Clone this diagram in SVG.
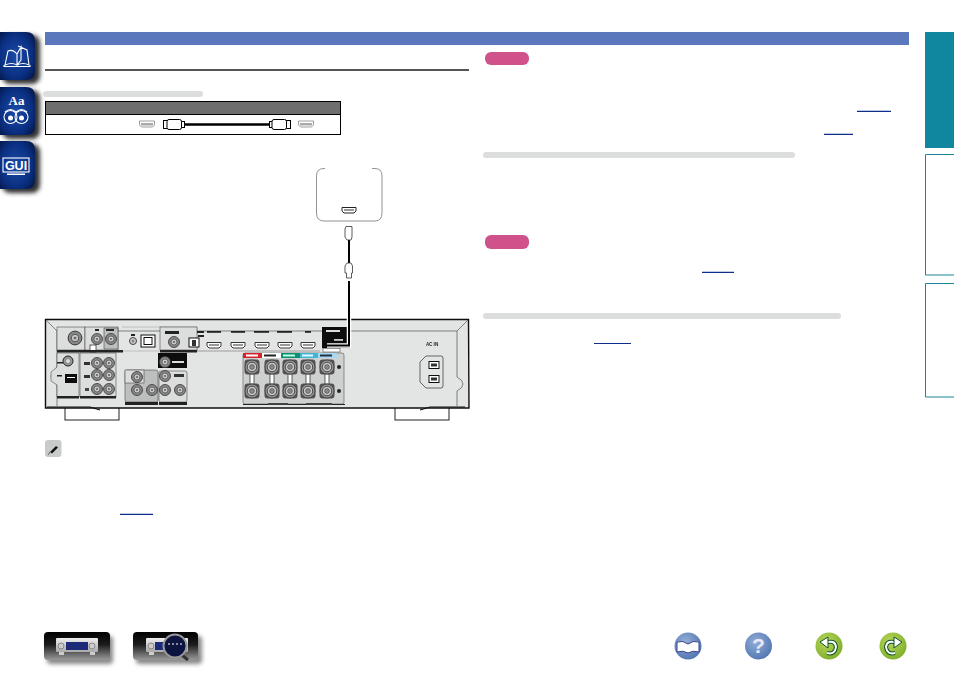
<svg xmlns="http://www.w3.org/2000/svg" xmlns:xlink="http://www.w3.org/1999/xlink" width="954" height="674" viewBox="0 0 954 674">
<style>
.bar{fill:#5a78bb}.pill{fill:#d0528a}.sub{fill:#dcdddd}.link{stroke:#0b2f8a;stroke-width:1.2;fill:none}
.out{fill:#fff;stroke:#1d8496;stroke-width:1}
.mod{fill:#bdbebe;stroke:#333;stroke-width:.5}.lt{fill:#dcdddd;stroke:#333;stroke-width:.5}
.lab{fill:#222}.wic{fill:none;stroke:#fff;stroke-width:1.1}
.plug{fill:#fff;stroke:#000;stroke-width:1}.vplug{fill:#fff;stroke:#333;stroke-width:.8}
</style>
<defs>
<radialGradient id="tabg" cx=".45" cy=".5" r=".65"><stop offset="0" stop-color="#1a4aa8"/><stop offset=".7" stop-color="#0a2f80"/><stop offset="1" stop-color="#061a50"/></radialGradient>
<linearGradient id="btn" x1="0" y1="0" x2="0" y2="1"><stop offset="0" stop-color="#000"/><stop offset=".45" stop-color="#1c1c1c"/><stop offset="1" stop-color="#9a9a9a"/></linearGradient>
<linearGradient id="rcv" x1="0" y1="0" x2="0" y2="1"><stop offset="0" stop-color="#eee"/><stop offset="1" stop-color="#aaa"/></linearGradient>
<radialGradient id="blu" cx=".4" cy=".35" r=".7"><stop offset="0" stop-color="#93aed8"/><stop offset="1" stop-color="#5075b0"/></radialGradient>
<radialGradient id="grn" cx=".4" cy=".35" r=".7"><stop offset="0" stop-color="#b7d65a"/><stop offset="1" stop-color="#7fae2c"/></radialGradient>
<filter id="sh" x="-20%" y="-20%" width="150%" height="150%"><feGaussianBlur stdDeviation="2"/></filter>
<filter id="soft" x="-2%" y="-2%" width="104%" height="104%"><feGaussianBlur stdDeviation=".35"/></filter>
<g id="term"><rect x="-7.500" y="-7.500" width="15" height="15" rx="3" fill="#555"/><circle r="7" fill="#999" stroke="#333" stroke-width=".8"/><circle r="4.800" fill="#c8c8c8" stroke="#444" stroke-width="1"/><circle r="2.400" fill="#888" stroke="#444" stroke-width=".6"/></g>
<g id="rca"><circle r="5.500" fill="#888" stroke="#333" stroke-width=".8"/><circle r="3" fill="#c8c8c8" stroke="#555" stroke-width=".8"/><circle r="1.100" fill="#666"/></g>
<g id="hp"><path d="M-7 -2.500H7V1L5 3H-5L-7 1Z" fill="#fff" stroke="#222" stroke-width=".9"/><rect x="-5" y="-1" width="10" height="2" fill="#999"/></g>
<g id="port"><path d="M-7.500 -3H7.500V1L5.500 3H-5.500L-7.500 1Z" fill="#fff" stroke="#777" stroke-width=".7"/><rect x="-6" y="-1" width="12" height="2.500" fill="#aaa"/></g>
</defs>

<g id="nav-tabs">
<g id="tab-book"><rect x="2" y="35" width="38" height="49" rx="8" fill="#333" filter="url(#sh)"/><path d="M0 32H26Q35 32 35 41V71Q35 80 26 80H0Z" fill="url(#tabg)"/><path class="wic" d="M5 65L8 51Q13 49 17 54V65Q12 62 5 65ZM29 65L27 50L18 46M17 54L21 47V60L17 65M17 65Q23 62 29 65M4 65V66.500H30V65"/></g>
<g id="tab-glossary"><rect x="2" y="90" width="38" height="49" rx="8" fill="#333" filter="url(#sh)"/><path d="M0 87H26Q35 87 35 96V126Q35 135 26 135H0Z" fill="url(#tabg)"/><text x="16.500" y="105" text-anchor="middle" font-family="'Liberation Serif',serif" font-weight="bold" font-size="13" fill="#fff">Aa</text><circle class="wic" cx="10.500" cy="117" r="6.500"/><circle class="wic" cx="21.500" cy="117" r="6.500"/><path class="wic" d="M5 112Q10.500 107 16 112Q21.500 107 27 112"/><circle cx="10.500" cy="118" r="2.500" fill="#fff"/><circle cx="21.500" cy="118" r="2.500" fill="#fff"/></g>
<g id="tab-gui"><rect x="2" y="144" width="38" height="49" rx="8" fill="#333" filter="url(#sh)"/><path d="M0 141H26Q35 141 35 150V180Q35 189 26 189H0Z" fill="url(#tabg)"/><rect class="wic" x="3" y="158" width="26" height="14"/><text x="16" y="170" text-anchor="middle" font-family="'Liberation Sans',sans-serif" font-weight="bold" font-size="12.500" fill="#fff">GUI</text><rect x="7" y="173.500" width="18" height="1.500" fill="#fff"/></g>
</g>

<rect class="bar" x="45" y="32" width="864" height="13"/>
<rect x="45" y="69" width="424" height="2" fill="#555"/>
<rect class="sub" x="43" y="91" width="160" height="6" rx="3"/>

<g id="right-tabs">
<rect x="925" y="32" width="29" height="116" fill="#10869f"/>
<path class="out" d="M954 154.500H925.500V275H954"/>
<path class="out" d="M954 283.500H925.500V397H954"/>
</g>

<g id="cable-table">
<rect x="45.500" y="101.500" width="295" height="33" fill="#fff" stroke="#000"/>
<rect x="46" y="102" width="294" height="12.500" fill="#6e6e6e"/>
<path d="M45 114.500H341" stroke="#000" fill="none"/>
<use xlink:href="#port" href="#port" x="147" y="124"/>
<use xlink:href="#port" href="#port" x="306" y="124"/>
<path d="M184 124.500H270" stroke="#000" stroke-width="2.500"/>
<rect class="plug" x="163.500" y="120.500" width="4" height="8"/><rect class="plug" x="181.500" y="121.500" width="3" height="6"/><rect class="plug" x="167" y="119.500" width="14.500" height="10" rx="2"/>
<rect class="plug" x="286.500" y="120.500" width="4" height="8"/><rect class="plug" x="269.500" y="121.500" width="3" height="6"/><rect class="plug" x="272" y="119.500" width="14.500" height="10" rx="2"/>
</g>

<g id="source-device">
<path d="M325 168.500H324Q316.500 168.500 316.500 176V213Q316.500 221 324 221H375Q382 221 382 213V176Q382 168.500 375 168.500H372" fill="#fff" stroke="#777" stroke-width=".8"/>
<path d="M342 207.500H356V211L354 213H344L342 211Z" fill="#fff" stroke="#222"/><rect x="344" y="209" width="10" height="2" fill="#999"/>
</g>

<g id="receiver" filter="url(#soft)">
<rect x="65" y="405" width="54" height="15" fill="#fff" stroke="#222"/>
<rect x="395" y="405" width="54" height="15" fill="#fff" stroke="#222"/>
<path d="M45.500 319.500H468.500L469 408H45.500Z" fill="#e3e4e4" stroke="#111" stroke-width="1.400"/>
<path d="M46 320L57 331V367Q51 372 51 376Q51 381 57 385V406M57 331H457M468 320L457 331V377Q463 380 463 384Q463 388 457 391V406" fill="none" stroke="#555" stroke-width=".7"/>
<path d="M47 407H90L100 410M465 407H430L420 410" fill="none" stroke="#111" stroke-width="1.200"/>

<rect class="lt" x="57" y="327" width="28" height="23"/><use xlink:href="#rca" href="#rca" x="75" y="338" transform="translate(-18.750 -84.500) scale(1.250)"/>
<rect class="lt" x="85" y="327" width="33" height="23"/><rect class="mod" x="104" y="328" width="14" height="21"/>
<use xlink:href="#rca" href="#rca" x="97" y="339"/><use xlink:href="#rca" href="#rca" x="111" y="339"/>
<rect x="90" y="345" width="6" height="7" fill="#fff" stroke="#222" stroke-width=".7"/>
<circle cx="133" cy="341" r="3.500" fill="#ccc" stroke="#444"/><circle cx="133" cy="341" r="1.500" fill="#888"/>
<rect x="141" y="335" width="14" height="12" fill="#fff" stroke="#111"/><rect x="144" y="337.500" width="8" height="7" fill="#fff" stroke="#111"/>
<path d="M122 327H197V351H122" fill="none" stroke="#999" stroke-width=".5"/>
<rect class="lt" x="160" y="327" width="37" height="23"/><use xlink:href="#rca" href="#rca" x="174" y="342"/>
<rect x="189" y="338" width="10" height="9" fill="#fff" stroke="#111"/><rect x="192" y="340" width="4" height="6" fill="#333"/>
<g class="lab"><rect x="165" y="331" width="14" height="3"/><rect x="197" y="331" width="7" height="2"/><rect x="198" y="335" width="6" height="2"/><rect x="95" y="329" width="4" height="2"/><rect x="106" y="329" width="8" height="2"/><rect x="131" y="334" width="4" height="2"/>
<rect x="207" y="331" width="14" height="1.800"/><rect x="231" y="331" width="14" height="1.800"/><rect x="254" y="331" width="15" height="1.800"/><rect x="277" y="331" width="15" height="1.800"/><rect x="305" y="331" width="6" height="1.800"/>
<rect x="57" y="350" width="28" height="2.500"/><rect x="85" y="350" width="38" height="2.500"/><rect x="160" y="350" width="37" height="2.500"/></g>
<use xlink:href="#hp" href="#hp" x="214" y="345"/><use xlink:href="#hp" href="#hp" x="238" y="345"/><use xlink:href="#hp" href="#hp" x="262" y="345"/><use xlink:href="#hp" href="#hp" x="285" y="345"/><use xlink:href="#hp" href="#hp" x="308" y="345"/>
<path d="M197 351H320" stroke="#555" stroke-width=".5" fill="none"/>

<rect x="322" y="327" width="28" height="21" fill="#111"/>
<rect x="326" y="330" width="14" height="2" fill="#ddd"/><rect x="334" y="339" width="9" height="1.800" fill="#ccc"/>
<rect x="323" y="348.500" width="17" height="3.500" fill="#fff" stroke="#333" stroke-width=".5"/>

<rect x="243" y="353" width="101" height="51" rx="2" fill="#cfd0d0" stroke="#555" stroke-width=".6"/>
<rect x="243" y="353" width="19" height="5" fill="#d8232a"/><rect x="246" y="354.500" width="12" height="2" fill="#fff"/>
<rect x="262" y="353" width="19" height="5" fill="#fff"/><rect x="264" y="354.500" width="12" height="2" fill="#222"/>
<rect x="281" y="353" width="19" height="5" fill="#0a8f6a"/><rect x="283" y="354.500" width="12" height="2" fill="#bfe"/>
<rect x="300" y="353" width="18" height="5" fill="#45b3d8"/><rect x="302" y="354.500" width="11" height="2" fill="#dff"/>
<rect x="318" y="353" width="19" height="5" fill="#a8d8ef"/><rect x="320" y="354.500" width="12" height="2" fill="#234"/>
<g fill="#fff" stroke="#222" stroke-width=".7"><rect x="250" y="372" width="4" height="14"/><rect x="270" y="372" width="4" height="14"/><rect x="288" y="372" width="4" height="14"/><rect x="306" y="372" width="4" height="14"/><rect x="325" y="372" width="4" height="14"/></g>
<use xlink:href="#term" href="#term" x="252" y="367"/><use xlink:href="#term" href="#term" x="272" y="367"/><use xlink:href="#term" href="#term" x="290" y="367"/><use xlink:href="#term" href="#term" x="308" y="367"/><use xlink:href="#term" href="#term" x="327" y="367"/>
<use xlink:href="#term" href="#term" x="252" y="391"/><use xlink:href="#term" href="#term" x="272" y="391"/><use xlink:href="#term" href="#term" x="290" y="391"/><use xlink:href="#term" href="#term" x="308" y="391"/><use xlink:href="#term" href="#term" x="327" y="391"/>
<circle cx="339" cy="367" r="2" fill="#222"/><circle cx="339" cy="391" r="2" fill="#222"/>
<path d="M243 404.500H345" stroke="#222" stroke-width="1.200"/>
<g fill="#444"><rect x="268" y="403" width="20" height="1.800"/><rect x="306" y="403" width="26" height="1.800"/></g>

<path class="lt" d="M57 353H79V397H57V385L51 381V372L57 367Z"/>
<circle cx="68" cy="361" r="5" fill="#999" stroke="#222" stroke-width="1"/><circle cx="68" cy="361" r="2.500" fill="#ddd" stroke="#555" stroke-width=".5"/>
<rect x="65" y="374" width="12" height="9" fill="#111"/><rect x="67" y="377" width="8" height="1" fill="#fff"/>
<rect x="57" y="362" width="6" height="1.500" fill="#222"/><rect x="57" y="375" width="5" height="1.500" fill="#222"/>
<rect x="57" y="396" width="22" height="2.500" fill="#222"/>
<rect class="lt" x="80" y="353" width="36" height="44"/>
<use xlink:href="#rca" href="#rca" x="97" y="363"/><use xlink:href="#rca" href="#rca" x="109" y="363"/><use xlink:href="#rca" href="#rca" x="97" y="375"/><use xlink:href="#rca" href="#rca" x="109" y="375"/><use xlink:href="#rca" href="#rca" x="97" y="389"/><use xlink:href="#rca" href="#rca" x="109" y="389"/>
<rect x="84" y="362" width="6" height="3" fill="#333"/><rect x="84" y="375" width="6" height="3" fill="#333"/><rect x="85" y="388" width="4" height="3" fill="#444"/>
<rect x="80" y="396" width="36" height="2.500" fill="#222"/>

<rect x="158" y="353" width="29" height="15" fill="#111"/><use xlink:href="#rca" href="#rca" x="165" y="362"/><rect x="172" y="361" width="12" height="2" fill="#ddd"/>
<rect class="mod" x="125" y="370" width="33" height="32" rx="2"/><rect class="lt" x="125" y="370" width="19" height="13"/><use xlink:href="#rca" href="#rca" x="137" y="377"/><use xlink:href="#rca" href="#rca" x="137" y="390"/><use xlink:href="#rca" href="#rca" x="152" y="390"/>
<rect x="125" y="402" width="33" height="3" fill="#222"/>
<rect class="lt" x="159" y="371" width="28" height="31" rx="2"/><use xlink:href="#rca" href="#rca" x="165" y="376"/><use xlink:href="#rca" href="#rca" x="165" y="390"/><use xlink:href="#rca" href="#rca" x="180" y="390"/>
<rect x="174" y="374" width="10" height="3" fill="#333"/><rect x="159" y="402" width="28" height="3" fill="#222"/>

<text x="432" y="346" text-anchor="middle" font-family="'Liberation Sans',sans-serif" font-weight="bold" font-size="4.500" fill="#222">AC IN</text>
<path d="M426 356H441Q443 356 443 358V386Q443 388 441 388H426L420 382V362Z" fill="#e3e4e4" stroke="#444" stroke-width=".8"/>
<rect x="429" y="361.500" width="10" height="7" fill="#fff" stroke="#111"/><rect x="431" y="363.500" width="6" height="3" fill="#333"/>
<rect x="429" y="375.500" width="10" height="7" fill="#fff" stroke="#111"/><rect x="431" y="377.500" width="6" height="3" fill="#333"/>
</g>

<g id="connectors">
<path d="M349 281V345.500H327" fill="none" stroke="#fff" stroke-width="4.500"/>
<path d="M349 281V345.500H327" fill="none" stroke="#000" stroke-width="2"/>
<path d="M349 239V263" fill="none" stroke="#000" stroke-width="2"/>
<path class="vplug" d="M346 226.500H352V237L351 240H347L345 237V229Z"/>
<path class="vplug" d="M347 263H351L352.500 266V273H351.500V278H346.500V273H345V266Z"/>
</g>

<g id="notes">
<rect class="pill" x="485" y="52" width="44" height="13" rx="6"/>
<rect class="pill" x="485" y="235" width="44" height="14" rx="6"/>
<rect class="sub" x="483" y="152" width="312" height="6" rx="3"/>
<rect class="sub" x="483" y="313" width="358" height="6" rx="3"/>
<path class="link" d="M857 111.300H891M824 134.300H853M702 272.300H734M594 343.500H631M120 514.300H153"/>
<g id="note-icon"><rect x="45" y="440" width="16.500" height="17" rx="3" fill="#c9caca"/><path d="M50 452L56 446L58 447.500L52 453.500Z" fill="#111"/><path d="M48 455L50 452" stroke="#666" stroke-width="1"/></g>
</g>

<g id="btn-front"><rect x="47" y="636" width="66" height="28" rx="4" fill="#888" filter="url(#sh)"/><rect x="44" y="632" width="66" height="28" rx="4" fill="url(#btn)"/><rect x="56" y="638" width="42" height="14" rx="1" fill="url(#rcv)"/><rect x="59" y="652" width="5" height="3" fill="#ccc"/><rect x="90" y="652" width="5" height="3" fill="#ccc"/><rect x="66" y="642" width="22" height="8" fill="#1c2a78"/><circle cx="61" cy="646" r="3" fill="#ccc" stroke="#888"/><circle cx="92" cy="646" r="3" fill="#ccc" stroke="#888"/></g>
<g id="btn-rear"><rect x="136" y="636" width="66" height="28" rx="4" fill="#888" filter="url(#sh)"/><rect x="133" y="632" width="65" height="28" rx="4" fill="url(#btn)"/><rect x="146" y="638" width="42" height="14" rx="1" fill="url(#rcv)"/><rect x="149" y="652" width="5" height="3" fill="#ccc"/><rect x="155" y="642" width="16" height="8" fill="#1c2a78"/><circle cx="151" cy="646" r="3" fill="#ccc" stroke="#888"/><path d="M182 655L188 660" stroke="#333" stroke-width="3"/><circle cx="175" cy="646" r="11.500" fill="#0e1440" stroke="#999" stroke-width="2"/><path d="M168 644H182" stroke="#fff" stroke-dasharray="2 2"/></g>

<g id="btn-contents"><circle cx="688" cy="646" r="13.500" fill="url(#blu)"/><path d="M677 652V642Q683 640 688 644Q693 640 699 642V652Q693 650 688 653Q683 650 677 652Z" fill="#fff" stroke="#36408c" stroke-width="1"/></g>
<g id="btn-help"><circle cx="758.500" cy="646" r="13.500" fill="url(#blu)"/><text x="758.500" y="653" text-anchor="middle" font-family="'Liberation Sans',sans-serif" font-weight="bold" font-size="21" fill="#e8e8f8">?</text></g>
<g id="btn-back"><circle cx="829" cy="646" r="13.500" fill="url(#grn)"/><path d="M825 643Q835 639 836 647Q835 655 827 653" fill="none" stroke="#14532a" stroke-width="4"/><path d="M825 643Q835 639 836 647Q835 655 827 653" fill="none" stroke="#fff" stroke-width="2"/><path d="M820 642L828 637V648Z" fill="#fff" stroke="#14532a"/></g>
<g id="btn-forward"><circle cx="893" cy="646" r="13.500" fill="url(#grn)"/><path d="M897 643Q887 639 886 647Q887 655 895 653" fill="none" stroke="#14532a" stroke-width="4"/><path d="M897 643Q887 639 886 647Q887 655 895 653" fill="none" stroke="#fff" stroke-width="2"/><path d="M902 642L894 637V648Z" fill="#fff" stroke="#14532a"/></g>
</svg>
